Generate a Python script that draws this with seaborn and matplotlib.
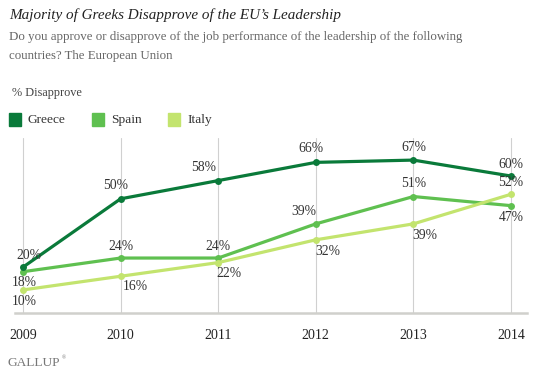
import matplotlib
matplotlib.use("Agg")
import matplotlib.pyplot as plt
from matplotlib.patches import Rectangle
import seaborn as sns
import pandas as pd

years = [2009, 2010, 2011, 2012, 2013, 2014]
series_names = ["Greece", "Spain", "Italy"]
greece = [20, 50, 58, 66, 67, 60]
spain = [18, 24, 24, 39, 51, 47]
italy = [10, 16, 22, 32, 39, 52]
colors = {"Greece": "#0a7a3a", "Spain": "#5fc050", "Italy": "#c3e46e"}

# label offsets in pixels (dx, dy)
offsets = {
    "Greece": [(6, 12), (-5, 13), (-15, 13), (-5, 14), (0, 13), (0, 12)],
    "Spain": [(1, -11), (0, 12), (0, 12), (-12, 12), (0, 13), (0, -12)],
    "Italy": [(1, -12), (15, -10), (11, -11), (12, -12), (11, -12), (0, 12)],
}

values = {"Greece": greece, "Spain": spain, "Italy": italy}
df = pd.DataFrame(
    [(y, name, v) for name in series_names for y, v in zip(years, values[name])],
    columns=["year", "country", "value"],
)

sns.set_theme(style="white")
plt.rcParams["font.family"] = ["Liberation Serif", "DejaVu Serif"]

fig = plt.figure(figsize=(5.34, 3.74), dpi=100)
ax = fig.add_axes([15 / 534, 1 - 312.7 / 374, (527 - 15) / 534, (312.7 - 138) / 374])

for i, name in enumerate(["Spain", "Italy", "Greece"]):
    sub = df[df["country"] == name]
    sns.lineplot(data=sub, x="year", y="value", color=colors[name], lw=2.3,
                 marker="o", markersize=5, markeredgewidth=0, ax=ax,
                 zorder=3 + i, legend=False)

for name in series_names:
    for (y, v), (dx, dy) in zip(zip(years, values[name]), offsets[name]):
        ax.annotate(f"{v}%", (y, v), xytext=(dx, dy), textcoords="offset pixels",
                    ha="center", va="center", fontsize=9.8, color="#333333", zorder=10)

ax.set_xlim(2009 - 8 / 97.6, 2014 + 16 / 97.6)
ax.set_ylim(0, 76.7)
for y in years:
    ax.axvline(y, color="#d0d0d0", lw=0.8, zorder=1)
for s in ["top", "right", "left"]:
    ax.spines[s].set_visible(False)
ax.spines["bottom"].set_color("#d0d0cc")
ax.spines["bottom"].set_linewidth(1.8)
ax.set_yticks([])
ax.set_xticks(years)
ax.set_xticklabels([str(y) for y in years], fontsize=10, color="#222222")
ax.tick_params(axis="x", length=0, pad=12)
ax.set_xlabel("")
ax.set_ylabel("")

fig.text(9 / 534, 1 - 15 / 374, "Majority of Greeks Disapprove of the EU\u2019s Leadership",
         fontsize=10.9, style="italic", color="#222222", va="center", ha="left")
fig.text(9 / 534, 1 - 37 / 374,
         "Do you approve or disapprove of the job performance of the leadership of the following",
         fontsize=9.25, color="#666666", va="center", ha="left")
fig.text(9 / 534, 1 - 56 / 374, "countries? The European Union",
         fontsize=9.25, color="#666666", va="center", ha="left")
fig.text(12 / 534, 1 - 93 / 374, "% Disapprove", fontsize=8.8, color="#444444",
         va="center", ha="left")

legend_x = {"Greece": 9, "Spain": 92, "Italy": 168}
for name in series_names:
    x0 = legend_x[name]
    fig.patches.append(Rectangle((x0 / 534, 1 - 126 / 374), 12 / 534, 13 / 374,
                                 transform=fig.transFigure, color=colors[name]))
    fig.text((x0 + 19) / 534, 1 - 119.5 / 374, name, fontsize=9.6, color="#333333",
             va="center", ha="left")

fig.text(7 / 534, 1 - 363 / 374, "GALLUP", fontsize=9.6, color="#777777",
         va="center", ha="left")
fig.text(62 / 534, 1 - 358 / 374, "\u00ae", fontsize=4, color="#777777",
         va="center", ha="left")

fig.savefig("out.png", dpi=100)
